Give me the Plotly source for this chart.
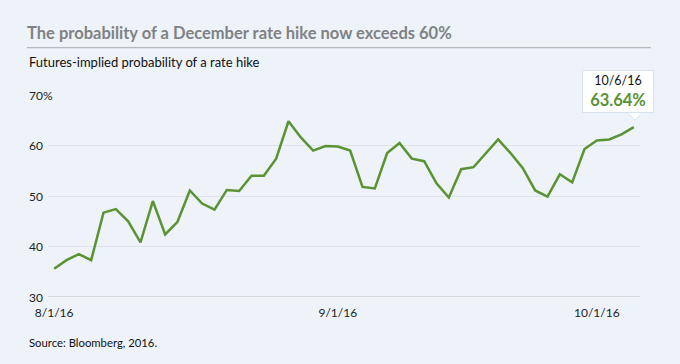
import pandas as pd
import plotly.graph_objects as go

# ---- data ----
dates = [d.strftime("%Y-%m-%d") for d in pd.bdate_range("2016-08-01", "2016-10-06")
         if d.strftime("%Y-%m-%d") != "2016-09-05"]
probability = [35.6, 37.3, 38.5, 37.3, 46.7, 47.4, 45.0, 40.8, 49.0, 42.4,
               44.9, 51.1, 48.5, 47.3, 51.2, 51.0, 54.0, 54.0, 57.4, 64.8,
               61.6, 59.0, 59.9, 59.8, 59.0, 51.8, 51.5, 58.5, 60.5, 57.4,
               56.9, 52.5, 49.7, 55.3, 55.7, 58.4, 61.2, 58.5, 55.5, 51.1,
               49.9, 54.3, 52.7, 59.3, 61.0, 61.2, 62.2, 63.64]
x_tick_vals = ["2016-08-01", "2016-09-01", "2016-10-03"]
x_tick_text = ["8/1/16", "9/1/16", "10/1/16"]
y_tick_vals = [30, 40, 50, 60, 70]
y_tick_text = ["30", "40", "50", "60", "70%"]
title_text = "The probability of a December rate hike now exceeds 60%"
subtitle_text = "Futures-implied probability of a rate hike"
source_text = "Source: Bloomberg, 2016."
callout_date = "10/6/16"

# ---- layout constants ----
W, H = 680, 364
L, R, T, B = 48, 40, 94.7, 67.3
PW, PH = W - L - R, H - T - B
BG = "#EDF3F9"
GREEN = "#5B9234"
FONT = "Lato, Roboto, sans-serif"

def px(xp):
    return (xp - L) / PW

def py(yp):
    return (H - B - yp) / PH

fig = go.Figure()
fig.add_trace(go.Scatter(
    x=dates, y=probability, mode="lines",
    line=dict(color=GREEN, width=2.5),
    hoverinfo="skip",
))

annotations = []
# y tick labels (left aligned)
for v, t in zip(y_tick_vals, y_tick_text):
    annotations.append(dict(
        xref="paper", yref="y", x=px(27), y=v, text=t, showarrow=False,
        xanchor="left", yanchor="middle",
        font=dict(family=FONT, size=12, color="#222222"),
    ))
# subtitle
annotations.append(dict(
    xref="paper", yref="paper", x=px(27), y=py(62), text=subtitle_text,
    showarrow=False, xanchor="left", yanchor="middle",
    font=dict(family=FONT, size=13, color="#111111"),
))
# source
annotations.append(dict(
    xref="paper", yref="paper", x=px(27), y=py(342), text=source_text,
    showarrow=False, xanchor="left", yanchor="middle",
    font=dict(family=FONT, size=11.3, color="#111111"),
))
# callout
annotations.append(dict(
    x=dates[-1], y=probability[-1], xref="x", yref="y",
    text=(f"<span style='font-size:12.5px;color:#111111'>{callout_date}</span><br>"
          f"<b>{probability[-1]:.2f}%</b>"),
    showarrow=False, xanchor="center", yanchor="bottom",
    xshift=-16, yshift=14, width=66,
    bgcolor="white", bordercolor="#D7E3EE", borderwidth=1, borderpad=2,
    font=dict(family=FONT, size=16.5, color=GREEN),
))

shapes = [
    # separator line under title
    dict(type="line", xref="paper", yref="paper", x0=px(27), x1=px(651),
         y0=py(47.3), y1=py(47.3), line=dict(color="#B4B9BE", width=1.2)),
    # callout pointer
    dict(type="path", xref="x", yref="y", xsizemode="pixel", ysizemode="pixel",
         xanchor=len(dates) - 1, yanchor=probability[-1],
         path="M -7,14.6 L 1,7 L 9,14.6 Z",
         fillcolor="white", line=dict(color="#D7E3EE", width=1), layer="above"),
    dict(type="path", xref="x", yref="y", xsizemode="pixel", ysizemode="pixel",
         xanchor=len(dates) - 1, yanchor=probability[-1],
         path="M -6,15.2 L 8,15.2 L 8,14 L -6,14 Z",
         fillcolor="white", line=dict(width=0), layer="above"),
]

fig.update_layout(
    width=W, height=H,
    margin=dict(l=L, r=R, t=T, b=B),
    paper_bgcolor=BG, plot_bgcolor=BG,
    showlegend=False,
    title=dict(text=title_text, xref="container", yref="container",
               x=27 / W, y=1 - 33.5 / H, xanchor="left", yanchor="middle",
               font=dict(family=FONT, size=16.5, color="#7F8285", weight="bold")),
    xaxis=dict(type="category", tickmode="array", tickvals=x_tick_vals,
               ticktext=x_tick_text, showgrid=False, zeroline=False,
               showline=False, ticks="outside", ticklen=5,
               tickcolor="rgba(0,0,0,0)",
               tickfont=dict(family=FONT, size=12, color="#222222"),
               range=[-0.5, len(dates) - 0.5]),
    yaxis=dict(range=[30, 70], tickvals=y_tick_vals, showticklabels=False,
               showgrid=True, gridcolor="#DCE4EC", gridwidth=1,
               zeroline=False, showline=False),
    annotations=annotations,
    shapes=shapes + [
        dict(type="line", xref="paper", yref="y", x0=0, x1=1, y0=30, y1=30,
             line=dict(color="#D2D7DC", width=2.2), layer="below"),
    ],
)

fig.write_html("out.html", config={"displayModeBar": False},
               post_script="document.body.style.margin='0';")
